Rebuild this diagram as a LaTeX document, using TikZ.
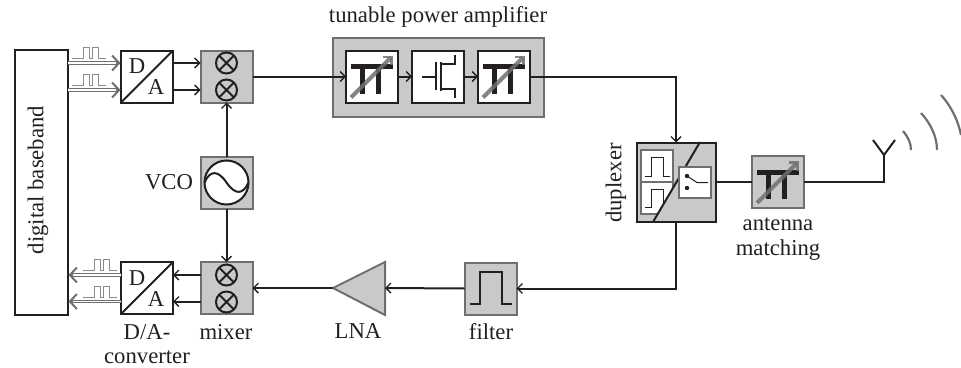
\documentclass[tikz,border=0pt]{standalone}
\usepackage{fontspec}
\setmainfont{Liberation Serif}
\usetikzlibrary{arrows.meta,calc}
\definecolor{blockfill}{HTML}{C8C9CB}
\definecolor{blockedge}{HTML}{6E6F71}
\definecolor{ink}{HTML}{231F20}
\tikzset{
  x=1pt,y=-1pt,
  every node/.style={inner sep=0pt,outer sep=0pt,text=ink,font=\fontsize{22.7}{25}\selectfont},
  >={Straight Barb[length=5pt,width=10pt,line width=1.3pt]},
  whitebox/.style={draw=ink,fill=white,line width=2pt,minimum size=52pt},
  greybox/.style={draw=blockedge,fill=blockfill,line width=2pt,minimum size=52pt},
  conn/.style={draw=ink,line width=2pt},
  wire/.style={conn,->},
  sig/.style={draw=blockedge,line width=3.6pt,->,shorten >=0.5pt,
     >={Straight Barb[length=7pt,width=15pt,line width=2pt]},
     postaction={draw=white,line width=1.2pt,-,shorten >=5pt}},
  pulse/.style={draw=blockedge!80,line width=1pt},
  ink line/.style={draw=ink,line width=2pt},
  tune/.style={draw=blockedge,line width=4.2pt,opacity=.85,-{Straight Barb[length=6pt,width=12pt,line width=2.6pt]}},
  wave/.style={draw=blockedge,line width=2.2pt},
}
\newcommand{\PiSym}[1]{%
  \begin{scope}[shift={(#1)}]
    \fill[ink] (-21,-12.5) rectangle (21,-7.5);
    \fill[ink] (-12,-10) rectangle (-7,17);
    \fill[ink] (4,-10) rectangle (9,17);
    \draw[tune] (-21,21) -- (21,-21);
  \end{scope}}
\newcommand{\PulseSym}[1]{%
  \draw[pulse] ($(#1)+(0,0)$) -- ++(11,0) -- ++(0,-11) -- ++(6,0) -- ++(0,11) -- ++(3,0) -- ++(0,-11) -- ++(6,0) -- ++(0,11) -- ++(8,0);}
\begin{document}
\begin{tikzpicture}
\useasboundingbox (0,0) rectangle (961,367);
% blocks
\node[whitebox,minimum width=53pt,minimum height=265pt] (bb) at (41.5,182.5) {};
\node[rotate=90] (bbt) at (38,180) {digital baseband};
\node[whitebox] (da1) at (147,76.5) {};
\node[whitebox] (da2) at (147,288) {};
\node[greybox] (mx1) at (226.5,76.5) {};
\node[greybox] (mx2) at (226.5,288) {};
\node[greybox] (vco) at (226.5,182.5) {};
\node[greybox,minimum width=211pt,minimum height=79pt] (pa) at (438,77) {};
\node[whitebox] (pa1) at (372,76.5) {};
\node[whitebox] (pa2) at (438,76.5) {};
\node[whitebox] (pa3) at (504,76.5) {};
\node[greybox,minimum size=79pt,draw=ink] (dup) at (676,182) {};
\node[greybox] (am) at (778,182) {};
\node[greybox] (flt) at (490.5,288.5) {};
\coordinate (lnatip) at (333,288);
\coordinate (lnabase) at (385,288);
\draw[draw=blockedge,fill=blockfill,line width=2pt,line join=miter] (lnatip) -- (385,262) -- (385,315) -- cycle;
% D/A contents
\foreach \n in {da1,da2}{
  \draw[ink line] (\n.south west) -- (\n.north east);
  \node (\n D) at ($(\n.center)+(-10,-10)$) {D};
  \node (\n A) at ($(\n.center)+(9,11)$) {A};
}
% mixers
\foreach \n/\cx/\cy in {m1/226.5/63,m2/226.5/90,m3/226.5/275,m4/226.5/302}{
  \node[draw=ink,line width=2pt,circle,minimum size=21pt,fill=none] (\n) at (\cx,\cy) {};
  \draw[ink line] (\n.north west) -- (\n.south east) (\n.north east) -- (\n.south west);
}
% VCO
\node[draw=ink,fill=white,line width=2pt,circle,minimum size=44pt] (osc) at (226.5,182.5) {};
\draw[ink line] (osc.west) .. controls (210,170) and (218,170) .. (226.5,182.5) .. controls (235,195) and (243,195) .. (osc.east);
% pi symbols
\PiSym{372,76.5}
\PiSym{504,76.5}
\PiSym{778,182}
% transistor
\draw[ink line] (422,76.5) -- (435,76.5) (436,62) -- (436,90);
\draw[ink line] (441,62) -- (441,91);
\draw[ink line] (441,64) -- (455,64) -- (455,55);
\draw[ink line] (441,89) -- (455,89) -- (455,98);
% filter symbol
\draw[line width=2pt,draw=ink] (470,304) -- (480,304) -- (480,272) -- (502,272) -- (502,304) -- (512,304);
% duplexer contents
\fill[white] (641,150) -- (673,150) -- (673,188) -- (657.5,214) -- (641,214) -- cycle;
\draw[draw=blockedge,line width=1.4pt] (657.5,214) -- (641,214) -- (641,150) -- (673,150) -- (673,188);
\draw[draw=blockedge,line width=1.4pt] (641,182) -- (673,182);
\draw[line width=1pt,draw=ink] (645,176) -- (651,176) -- (651,157) -- (663,157) -- (663,176) -- (670,176);
\draw[line width=1pt,draw=ink] (645,207) -- (651,207) -- (651,189) -- (663,189) -- (663,204);
\draw[ink line] (700,142) -- (653,222);
\draw[fill=white,draw=blockedge,line width=1.4pt] (679,167) rectangle (711,198);
\fill[ink] (687,176) circle (2.2) (687,188) circle (2.2);
\draw[line width=1pt,draw=ink] (687,176) -- (697,182.5) -- (708,182.5);
% connectors
\draw[sig] ([yshift=13.5pt]bb.east |- da1) -- ([yshift=13.5pt]da1.west);
\draw[sig] ([yshift=-13.5pt]bb.east |- da1) -- ([yshift=-13.5pt]da1.west);
\draw[sig] ([yshift=13pt]da2.west) -- ([yshift=13pt]bb.east |- da2);
\draw[sig] ([yshift=-13.5pt]da2.west) -- ([yshift=-13.5pt]bb.east |- da2);
\draw[wire] ([yshift=13.5pt]da1.east) -- ([yshift=13.5pt]mx1.west);
\draw[wire] ([yshift=-13.5pt]da1.east) -- ([yshift=-13.5pt]mx1.west);
\draw[wire] ([yshift=13pt]mx2.west) -- ([yshift=13pt]da2.east);
\draw[wire] ([yshift=-13.5pt]mx2.west) -- ([yshift=-13.5pt]da2.east);
\draw[wire] (vco) -- (mx1);
\draw[wire] (vco.south) -- (mx2.north);
\draw[wire] (mx1.east) -- (pa1.west);
\draw[wire] (pa1.east) -- (pa2.west);
\draw[wire] (pa2.east) -- (pa3.west);
\draw[wire] (pa3.east) -| (dup.north);
\draw[conn] (dup.east) -- (am.west);
\coordinate (ant) at (884,155);
\coordinate (antl) at (873,140);
\coordinate (antr) at (895,140);
\draw[conn,line join=miter] (am.east) -- (ant |- am.east) -- (ant);
\draw[conn] (antl) -- (ant) -- (antr);
\draw[wire] (dup.south) |- (flt.east);
\draw[wire] (flt.west) -- (lnabase);
\draw[wire] (lnatip) -- (mx2.east);
% pulses
\PulseSym{72,58}
\PulseSym{72,85}
\PulseSym{83,270}
\PulseSym{83,297}
% waves
\draw[wave] (903,131) .. controls (908,137) and (911,143) .. (911,150);
\draw[wave] (921,113) .. controls (931,124) and (937,137) .. (937,150);
\draw[wave] (941,95) .. controls (951,106) and (958,120) .. (961,135);
% labels
\node (tl) at (438,17) {tunable power amplifier};
\node[anchor=east] (vl) at (193,182) {VCO};
\node (dl1) at (147,332) {D/A-};
\node (dl2) at (147,357) {converter};
\node (ml) at (226,332) {mixer};
\node (ll) at (358,331) {LNA};
\node (fl) at (491,332) {filter};
\node[rotate=90] (dul) at (616,183) {duplexer};
\node (al1) at (778,224) {antenna};
\node (al2) at (778,250) {matching};
\end{tikzpicture}
\end{document}
